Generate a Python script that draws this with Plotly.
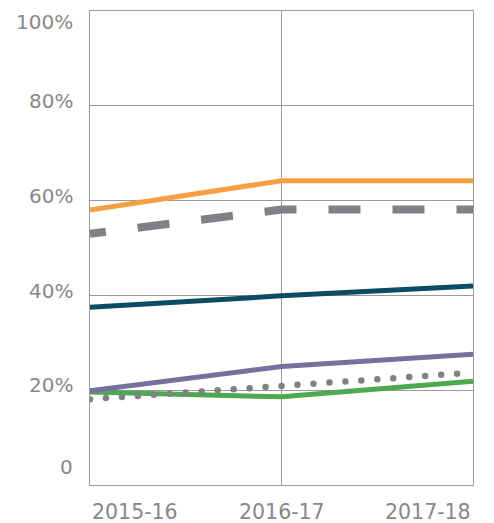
import plotly.graph_objects as go

years = ["2015-16", "2016-17", "2017-18"]
orange_vals = [58.0, 64.2, 64.2]
dashed_vals = [53.0, 58.1, 58.1]
teal_vals = [37.5, 39.9, 42.0]
purple_vals = [19.9, 25.0, 27.6]
green_vals = [19.6, 18.6, 21.9]
dotted_vals = [18.1, 20.9, 23.7]

y_ticks = [0, 20, 40, 60, 80, 100]
y_tick_labels = ["0", "20%", "40%", "60%", "80%", "100%"]

GRID = "#9a9a9a"
TXT = "#888888"

fig = go.Figure()
fig.add_trace(go.Scatter(x=years, y=dashed_vals, mode="lines",
                         line=dict(color="#808085", width=8, dash="32px,32px")))
fig.add_trace(go.Scatter(x=years, y=orange_vals, mode="lines",
                         line=dict(color="#F7A043", width=5)))
fig.add_trace(go.Scatter(x=years, y=teal_vals, mode="lines",
                         line=dict(color="#0B4B63", width=5)))
fig.add_trace(go.Scatter(x=years, y=green_vals, mode="lines",
                         line=dict(color="#4DA94F", width=5)))
fig.add_trace(go.Scatter(x=years, y=dotted_vals, mode="lines", name="dotted",
                         line=dict(color="#808085", width=6.5, dash="0px,16px")))
fig.add_trace(go.Scatter(x=years, y=purple_vals, mode="lines",
                         line=dict(color="#76709E", width=5)))

# y labels (placed slightly above gridlines, kept inside the plot range)
for v, t in zip(y_ticks, y_tick_labels):
    ypos = min(max(v + 1.0, 3.8), 97.7)
    fig.add_annotation(x=-0.04, xref="paper", y=ypos, yref="y", text=t,
                       showarrow=False, xanchor="right", yanchor="middle",
                       font=dict(family="DejaVu Sans", size=20, color=TXT))

# x labels
anchors = ["left", "center", "right"]
for i, (yr, a) in enumerate(zip(years, anchors)):
    fig.add_annotation(x=yr, xref="x", y=0, yref="paper", yshift=-27, text=yr,
                       showarrow=False, xanchor=a, yanchor="middle",
                       font=dict(family="DejaVu Sans", size=20.5, color=TXT))

fig.update_layout(
    width=494, height=523,
    margin=dict(l=90, r=21, t=11, b=38),
    paper_bgcolor="white", plot_bgcolor="white",
    showlegend=False,
    xaxis=dict(type="category", range=[0, 2], showgrid=True, gridcolor=GRID,
               gridwidth=1, showline=True, linecolor=GRID, linewidth=1,
               mirror=True, showticklabels=False, ticks="", zeroline=False,
               fixedrange=True),
    yaxis=dict(range=[0, 100], tickvals=y_ticks, showgrid=True, gridcolor=GRID,
               gridwidth=1, showline=True, linecolor=GRID, linewidth=1,
               mirror=True, showticklabels=False, ticks="", zeroline=False,
               fixedrange=True),
)

post = """
var gd = document.getElementsByClassName('plotly-graph-div')[0];
function fixCaps(){
  var traces = gd.querySelectorAll('.scatterlayer .trace');
  traces.forEach(function(t, i){
    if (i === 4) { t.querySelectorAll('path.js-line').forEach(function(p){ p.style.strokeLinecap = 'round'; }); }
    if (i === 0) { t.querySelectorAll('path.js-line').forEach(function(p){ p.style.strokeDashoffset = '16px'; }); }
  });
}
fixCaps();
gd.on('plotly_afterplot', fixCaps);
"""

fig.write_html("out.html", post_script=post, config={"displayModeBar": False})
